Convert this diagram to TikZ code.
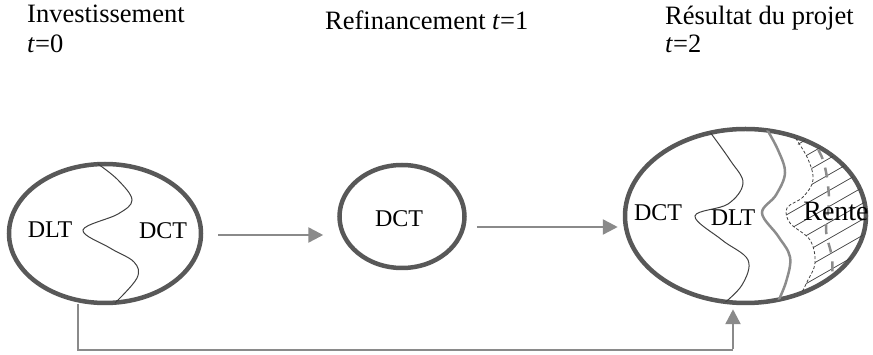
\documentclass[tikz,border=0pt]{standalone}
\usepackage{fontspec}
\setmainfont{Liberation Serif}
\usetikzlibrary{shapes.geometric,arrows.meta,calc}
\definecolor{ringc}{HTML}{585858}
\definecolor{arrc}{HTML}{8A8A8A}
\definecolor{wavec}{HTML}{404040}
\definecolor{greyc}{HTML}{8C8C8C}
\tikzset{
  ring/.style={ellipse, draw=ringc, line width=4.5pt, inner sep=0pt},
  arr/.style={draw=arrc, line width=2.5pt, -{Triangle[length=15pt,width=15pt]}},
  lnk/.style={draw=arrc, line width=2.5pt},
  lbl/.style={font=\fontsize{24}{28}\selectfont, inner sep=0pt},
  ttl/.style={font=\fontsize{26.5}{32}\selectfont, inner sep=0pt, anchor=base west, align=left},
  wave/.style={draw=wavec, line width=1pt},
  wave2/.style={draw=greyc, line width=2.5pt},
}
\begin{document}
\begin{tikzpicture}[x=1pt,y=-1pt]
\useasboundingbox (0,0) rectangle (873,355);
% titles
\node[ttl] (t0) at (27,23) {Investissement};
\node[ttl] (t0b) at (27,53) {\textit{t}=0};
\node[ttl] (t1) at (325,30) {Refinancement \textit{t}=1};
\node[ttl] (t2) at (665,25) {Résultat du projet};
\node[ttl] (t2b) at (665,53) {\textit{t}=2};
% ellipses
\node[ring, minimum width=192pt, minimum height=139pt] (L) at (105,233.5) {};
\node[ring, minimum width=125pt, minimum height=103pt] (M) at (402,216.5) {};
\node[ring, minimum width=241pt, minimum height=174pt] (R) at (745.5,216) {};
% left wave
\draw[wave] plot[smooth, tension=0.6] coordinates {(98,164) (118,180) (132,200) (118,214) (83,230) (110,248) (134,262) (137,278) (115,303)};
% right ellipse internals
\begin{scope}
\clip (R.center) ellipse [x radius=120.5pt, y radius=87pt];
\begin{scope}
\clip plot[smooth, tension=0.6] coordinates {(790,128) (793,138) (807,157) (813,180) (803,197) (787,208) (790,223) (810,240) (815,263) (807,282) (800,293) (797,310)} -- (880,310) -- (880,120) -- cycle;
\foreach \k in {0,...,14} {
  \draw[wavec, line width=0.7pt] (760,150+16*\k) -- ++(140,-80);
}
\end{scope}
\draw[wave] plot[smooth, tension=0.6] coordinates {(707,128) (730,160) (743,183) (728,204) (695,216) (722,240) (748,260) (742,285) (722,305)};
\draw[wave2] plot[smooth, tension=0.6] coordinates {(765,126) (778,150) (785,173) (776,195) (762,213) (778,236) (790,257) (786,282) (776,306)};
\draw[wave, line width=0.8pt, dash pattern=on 3pt off 2pt] plot[smooth, tension=0.6] coordinates {(790,130) (807,157) (813,180) (803,197) (787,208) (790,223) (810,240) (815,263) (807,282) (797,302)};
\draw[wave2, dash pattern=on 10pt off 9pt] plot[smooth, tension=0.6] coordinates {(808,134) (823,160) (829,198) (826,230) (832,258) (832,285)};
\end{scope}
% labels
\node[lbl] (l1) at (50,230) {DLT};
\node[lbl] (l2) at (163,231) {DCT};
\node[lbl] (m1) at (399,219) {DCT};
\node[lbl] (r1) at (658,213) {DCT};
\node[lbl] (r2) at (733,218) {DLT};
\node[lbl, font=\fontsize{28}{32}\selectfont] (r3) at (836,211) {Rente};
% connectors
\draw[arr] ([shift={(15,1.5)}]L.east) -- ([shift={(-14,18.5)}]M.west);
\draw[arr] ([shift={(10,10.5)}]M.east) -- ([shift={(-5,11)}]R.west);
\coordinate (c1) at (78,350);
\coordinate (c2) at (733,350);
\draw[lnk] ([shift={(-27,-1)}]L.south) -- (c1) -- (c2);
\draw[arr] ([yshift=1.25pt]c2) -- ([shift={(-12.5,4)}]R.south);
\end{tikzpicture}
\end{document}
